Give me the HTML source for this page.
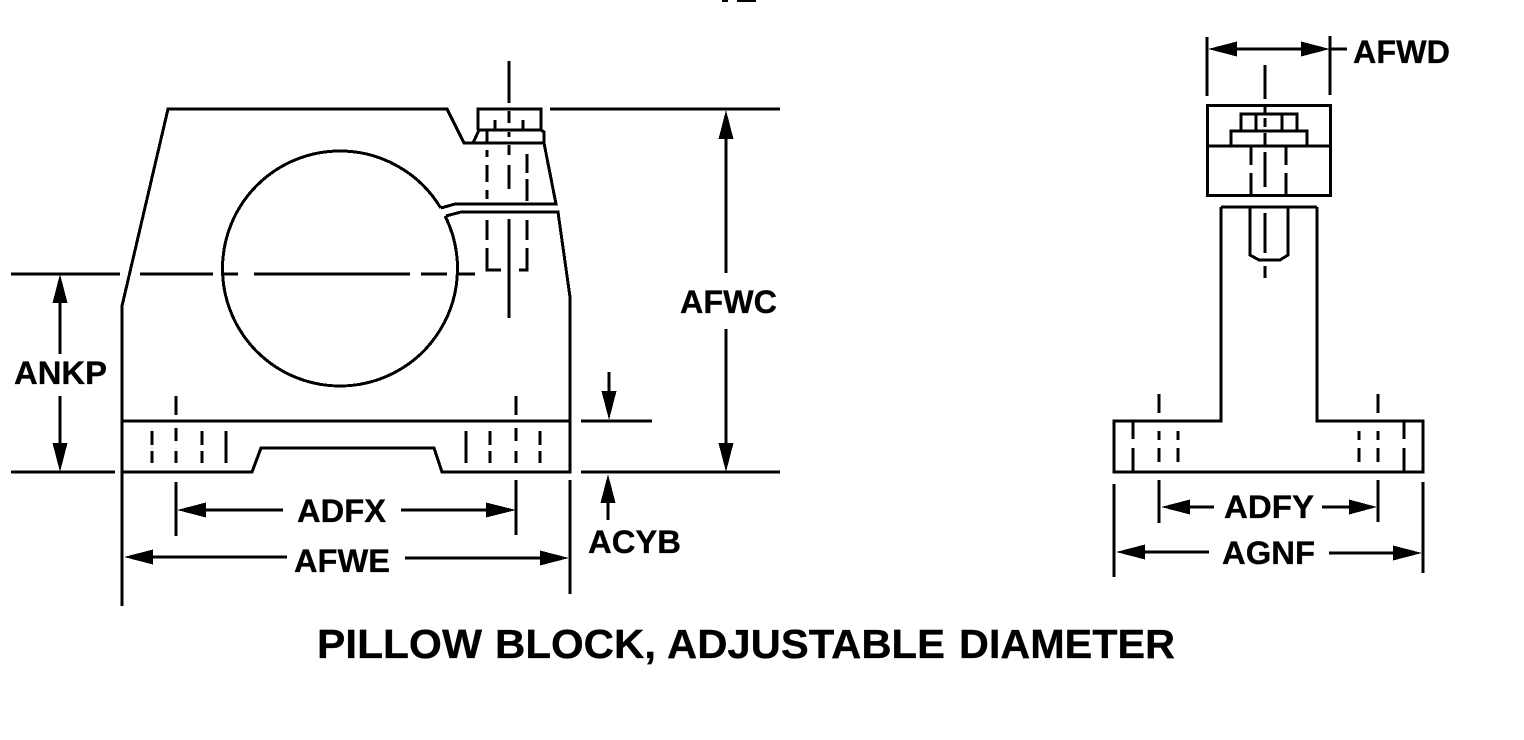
<!DOCTYPE html>
<html><head><meta charset="utf-8"><title>Pillow Block, Adjustable Diameter</title>
<style>html,body{margin:0;padding:0;background:#fff;width:1524px;height:740px;overflow:hidden}svg{display:block}text{font-family:"Liberation Sans",Arial,sans-serif;font-weight:bold;fill:#000;stroke:#000;stroke-width:.3px;font-size:32px}</style></head>
<body>
<svg width="1524" height="740" viewBox="0 0 1524 740" xmlns="http://www.w3.org/2000/svg">
<rect width="1524" height="740" fill="#fff"/>
<rect x="722" y="0" width="6" height="2"/><rect x="737" y="0" width="19" height="2"/>
<g fill="none" stroke="#000" stroke-width="3" shape-rendering="crispEdges">
<!-- left view outline -->
<path d="M122 606V306L168 109H447L464 143H544V132L541 130H478M478 130V109H541V130M479 130L473 143M544 143L556 204H455L441 208"/>
<path d="M446 216L461 212H558L570 297V472H442L434 448H261L252 472H122M122 421H570"/>
<path d="M445.100 216A117.500 117.500 0 0 1 340 386A117.500 117.500 0 0 1 222.500 268.500A117.500 117.500 0 0 1 340 151A117.500 117.500 0 0 1 440.700 208"/>
<path d="M570 480V594"/>
<!-- centre line horizontal -->
<path d="M11 274H120M140 274H213M223 274H238M254 274H410M421 274H447M457 274H475"/>
<!-- extension lines -->
<path d="M11 472H115M581 472H780M581 421H652M550 109H780"/>
<!-- bolt centre -->
<path d="M509 61V103M509 111V123M509 132V137M509 145V155M509 165V189M509 219V318"/>
<path d="M487 130V142M487 150V157M487 165V182M487 190V199M487 220V240M487 248V270H501"/>
<path d="M527 154V173M527 179V201M527 220V240M527 248V270H519"/>
<path d="M495 120V130M523 120V130"/>
<!-- base hidden lines -->
<path d="M152 431V445M152 451V463M202 431V445M202 451V463M226 431V463"/>
<path d="M176 396V415M176 428V441M176 451V463M176 482V536"/>
<path d="M466 431V463M490 431V445M490 451V463M540 431V445M540 451V463"/>
<path d="M516 396V415M516 428V441M516 451V463M516 480V535"/>
<!-- dim lines left view -->
<path d="M60 300V354M60 396V445"/>
<path d="M726 135V273M726 329V445"/>
<path d="M609 372V393M608 500V520"/>
<path d="M204 510H283M401 510H488"/>
<path d="M151 557H287M405 558H542"/>
<!-- right view -->
<rect x="1207.500" y="105.500" width="123" height="90"/>
<path d="M1207 146H1331M1241 131V114H1297V131M1231 146V131H1307V146M1256 114V131M1282 114V131"/>
<path d="M1251 146V165M1251 173V195M1286 146V165M1286 173V195"/>
<path d="M1265 65V99M1265 107V114M1265 118V127M1265 133V146M1265 152V187M1265 213V253M1265 266V278"/>
<path d="M1221 207H1317M1250 207V255L1259 260H1280L1288 255V207"/>
<path d="M1221 207V421H1114V472H1423V421H1317V207"/>
<path d="M1133 421V439M1133 448V472M1404 421V439M1404 448V472"/>
<path d="M1159 394V413M1159 431V440M1159 448V462M1159 480V523M1178 431V440M1178 448V462"/>
<path d="M1378 394V413M1378 431V440M1378 448V462M1378 480V522M1359 431V440M1359 448V462"/>
<path d="M1114 484V577M1423 482V573M1207 37V96M1330 36V95"/>
<path d="M1235 49H1307M1330 49H1347"/>
<path d="M1188 507H1214M1322 507H1351"/>
<path d="M1143 552H1209M1329 553H1395"/>
</g>
<g fill="#000" shape-rendering="crispEdges">
<polygon points="60,274 67.500,303 52.500,303"/>
<polygon points="60,472 67.500,443 52.500,443"/>
<polygon points="726,110 733.500,139 718.500,139"/>
<polygon points="726,472 733.500,443 718.500,443"/>
<polygon points="609,420 616.500,391 601.500,391"/>
<polygon points="608,474 615.500,503 600.500,503"/>
<polygon points="177,510 206,502.500 206,517.500"/>
<polygon points="516,510 486,502.500 486,517.500"/>
<polygon points="124,557 153,549.500 153,564.500"/>
<polygon points="569,558 540,550.500 540,565.500"/>
<polygon points="1208,49 1237,41.500 1237,56.500"/>
<polygon points="1330,49 1301,41.500 1301,56.500"/>
<polygon points="1161,507 1190,499.500 1190,514.500"/>
<polygon points="1377,507 1349,499.500 1349,514.500"/>
<polygon points="1116,552 1145,544.500 1145,559.500"/>
<polygon points="1422,553 1393,545.500 1393,560.500"/>
</g>
<text x="14" y="384" textLength="93" lengthAdjust="spacingAndGlyphs">ANKP</text>
<text x="680" y="313" textLength="97" lengthAdjust="spacingAndGlyphs">AFWC</text>
<text x="297" y="522" textLength="89" lengthAdjust="spacingAndGlyphs">ADFX</text>
<text x="294" y="572" textLength="96" lengthAdjust="spacingAndGlyphs">AFWE</text>
<text x="588" y="553" textLength="93" lengthAdjust="spacingAndGlyphs">ACYB</text>
<text x="1353" y="63" textLength="97" lengthAdjust="spacingAndGlyphs">AFWD</text>
<text x="1224" y="518" textLength="90" lengthAdjust="spacingAndGlyphs">ADFY</text>
<text x="1222" y="564" textLength="93" lengthAdjust="spacingAndGlyphs">AGNF</text>
<g style="font-size:41px">
<text x="317" y="658" textLength="165" lengthAdjust="spacingAndGlyphs" style="font-size:41px">PILLOW</text>
<text x="495" y="658" textLength="161" lengthAdjust="spacingAndGlyphs" style="font-size:41px">BLOCK,</text>
<text x="667" y="658" textLength="278" lengthAdjust="spacingAndGlyphs" style="font-size:41px">ADJUSTABLE</text>
<text x="959" y="658" textLength="216" lengthAdjust="spacingAndGlyphs" style="font-size:41px">DIAMETER</text>
</g>
</svg>
</body></html>
